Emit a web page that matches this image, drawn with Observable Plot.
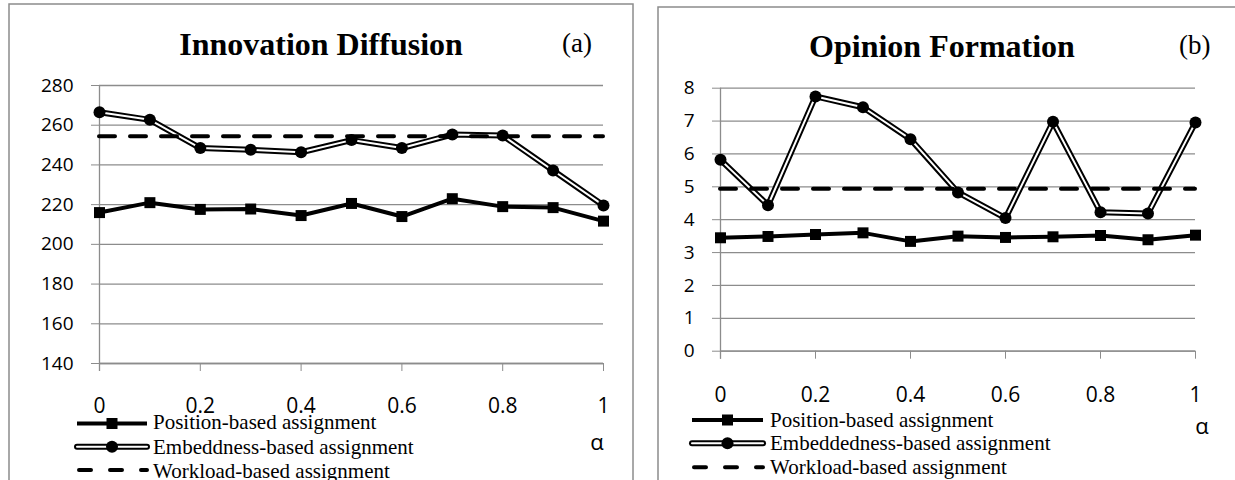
<!DOCTYPE html>
<html><head><meta charset="utf-8">
<script src="https://cdn.jsdelivr.net/npm/d3@7"></script>
<script src="https://cdn.jsdelivr.net/npm/@observablehq/plot@0.6"></script>
<style>
body{margin:0;background:#fff;}
#wrap{position:relative;width:1235px;height:480px;overflow:hidden;background:#fff;}
#wrap > div, #wrap > svg {position:absolute;top:0;}
</style></head><body><div id="wrap"></div>
<script>
// ---- data ----
const alpha = [0, 0.1, 0.2, 0.3, 0.4, 0.5, 0.6, 0.7, 0.8, 0.9, 1];
const xTicks = [0, 0.2, 0.4, 0.6, 0.8, 1];

const innovTicks = [140, 160, 180, 200, 220, 240, 260, 280];
const innovPosition = [216, 221, 217.6, 217.8, 214.5, 220.6, 214, 223, 219, 218.5, 211.7];
const innovEmbed = [266.5, 262.7, 248.5, 247.6, 246.4, 252.5, 248.5, 255.3, 254.8, 237.2, 219.6];
const innovWorkload = 254.5;

const opinionTicks = [0, 1, 2, 3, 4, 5, 6, 7, 8];
const opinionPosition = [3.45, 3.49, 3.55, 3.6, 3.34, 3.5, 3.46, 3.48, 3.52, 3.39, 3.53];
const opinionEmbed = [5.82, 4.44, 7.75, 7.42, 6.45, 4.83, 4.05, 6.98, 4.23, 4.19, 6.96];
const opinionWorkload = 4.94;

const titles = ["Innovation Diffusion", "Opinion Formation"];
const panelTags = ["(a)", "(b)"];
const legendA = ["Position-based assignment", "Embeddness-based assignment", "Workload-based assignment"];
const legendB = ["Position-based assignment", "Embeddedness-based assignment", "Workload-based assignment"];
const xLabel = "α";

// ---- drawing ----
const GRID = "#8c8c8c";
const wrap = document.getElementById("wrap");

function chart({width, yDomain, yTicks, pos, emb, work, mt, mb, ml, mr, xPad}) {
  const rows = alpha.map((a, i) => ({a, pos: pos[i], emb: emb[i]}));
  return Plot.plot({
    width, height: 480, marginTop: mt, marginBottom: mb, marginLeft: ml, marginRight: mr,
    style: {background: "transparent", overflow: "visible"},
    x: {domain: [0, 1]},
    y: {domain: yDomain},
    marks: [
      Plot.gridY(yTicks, {stroke: GRID, strokeOpacity: 1, strokeWidth: 1.3}),
      Plot.ruleX([0], {stroke: GRID, strokeWidth: 1.3, insetBottom: -8}),
      Plot.ruleY([yDomain[0]], {stroke: GRID, strokeWidth: 1.3}),
      Plot.axisY(yTicks, {tickSize: 8, tickPadding: 18, stroke: GRID, fill: "black", fontSize: 19, fontFamily: "Open Sans", label: null}),
      Plot.axisX(xTicks, {tickSize: 8, tickPadding: xPad, stroke: GRID, fill: "black", fontSize: 21, fontFamily: "Open Sans", tickFormat: d => String(d), label: null}),
      Plot.line(rows, {x: "a", y: "pos", stroke: "black", strokeWidth: 4}),
      Plot.dot(rows, {x: "a", y: "pos", symbol: "square", r: 6.2, fill: "black"}),
      Plot.line(rows, {x: "a", y: "emb", stroke: "black", strokeWidth: 6}),
      Plot.line(rows, {x: "a", y: "emb", stroke: "white", strokeWidth: 2}),
      Plot.dot(rows, {x: "a", y: "emb", r: 6, fill: "black"}),
      Plot.ruleY([work], {x1: 0, x2: 1, stroke: "black", strokeWidth: 4, strokeDasharray: "16,15", strokeLinecap: "round"})
    ]
  });
}

const left = chart({width: 620, yDomain: [140, 280], yTicks: innovTicks, pos: innovPosition, emb: innovEmbed, work: innovWorkload, mt: 85, mb: 117, ml: 99, mr: 17, xPad: 27});
const right = chart({width: 615, yDomain: [0, 8], yTicks: opinionTicks, pos: opinionPosition, emb: opinionEmbed, work: opinionWorkload, mt: 87.7, mb: 129.3, ml: 100, mr: 40, xPad: 28});
const dl = document.createElement("div"); dl.style.left = "0px"; dl.appendChild(left); wrap.appendChild(dl);
const dr = document.createElement("div"); dr.style.left = "620px"; dr.appendChild(right); wrap.appendChild(dr);

// overlay: borders, titles, legends
const svg = d3.select(wrap).append("svg").attr("width", 1235).attr("height", 480).style("left", "0px").style("pointer-events", "none");
svg.append("rect").attr("x", 9).attr("y", 4).attr("width", 624).attr("height", 600).attr("fill", "none").attr("stroke", GRID).attr("stroke-width", 1.5);
svg.append("rect").attr("x", 658).attr("y", 7).attr("width", 700).attr("height", 600).attr("fill", "none").attr("stroke", GRID).attr("stroke-width", 1.5);

function title(t, cx, y) {
  svg.append("text").attr("x", cx).attr("y", y).attr("text-anchor", "middle")
    .attr("font-family", "Liberation Serif").attr("font-weight", "bold").attr("font-size", 32).text(t);
}
function tag(t, x, y) {
  svg.append("text").attr("x", x).attr("y", y).attr("font-family", "Liberation Serif").attr("font-size", 27).text(t);
}
title(titles[0], 321, 55); tag(panelTags[0], 562, 52);
title(titles[1], 942, 57); tag(panelTags[1], 1179, 54);

function legend(names, x0, x1, ys, tx, tys) {
  const mid = (x0 + x1) / 2;
  // position
  svg.append("line").attr("x1", x0).attr("x2", x1).attr("y1", ys[0]).attr("y2", ys[0]).attr("stroke", "black").attr("stroke-width", 4);
  svg.append("rect").attr("x", mid - 5.5).attr("y", ys[0] - 5.5).attr("width", 11).attr("height", 11).attr("fill", "black");
  // embeddedness
  svg.append("line").attr("x1", x0).attr("x2", x1).attr("y1", ys[1]).attr("y2", ys[1]).attr("stroke", "black").attr("stroke-width", 6).attr("stroke-linecap", "round");
  svg.append("line").attr("x1", x0).attr("x2", x1).attr("y1", ys[1]).attr("y2", ys[1]).attr("stroke", "white").attr("stroke-width", 2).attr("stroke-linecap", "round");
  svg.append("circle").attr("cx", mid).attr("cy", ys[1]).attr("r", 6).attr("fill", "black");
  // workload
  svg.append("line").attr("x1", x0 + 2).attr("x2", x1).attr("y1", ys[2]).attr("y2", ys[2]).attr("stroke", "black").attr("stroke-width", 4).attr("stroke-dasharray", "12,19").attr("stroke-linecap", "round");
  names.forEach((n, i) => {
    svg.append("text").attr("x", tx).attr("y", tys[i]).attr("font-family", "Liberation Serif").attr("font-size", 21).text(n);
  });
}
legend(legendA, 77, 147, [423.5, 446.7, 470], 153, [429, 454, 478]);
legend(legendB, 692, 763, [420, 443.3, 467.3], 770, [427, 450, 474]);

svg.append("text").attr("x", 597).attr("y", 450).attr("text-anchor", "middle").attr("font-family", "Open Sans").attr("font-size", 22).text(xLabel);
svg.append("text").attr("x", 1202).attr("y", 434).attr("text-anchor", "middle").attr("font-family", "Open Sans").attr("font-size", 22).text(xLabel);
</script></body></html>
